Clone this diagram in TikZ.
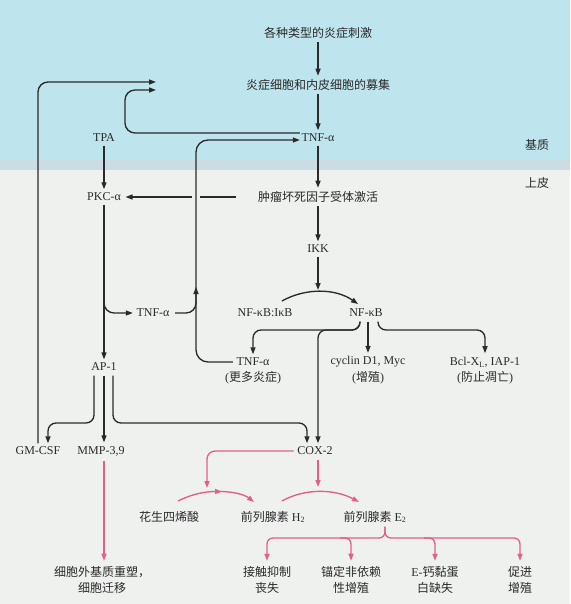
\documentclass[tikz,border=0pt]{standalone}
\usepackage{fontspec}
\setmainfont{Liberation Serif}
\newfontfamily\cjk{Noto Sans CJK SC}
\usetikzlibrary{arrows.meta}
\definecolor{bgblue}{HTML}{BEE4EE}
\definecolor{bgband}{HTML}{CCDCE3}
\definecolor{bggray}{HTML}{EFF1EF}
\definecolor{ink}{HTML}{2A2A2A}
\definecolor{pinkln}{HTML}{E25E8C}
\begin{document}
\begin{tikzpicture}[x=1pt,y=-1pt,
  lbl/.style={text=ink, inner sep=1.5pt, font=\fontsize{12}{16}\selectfont, align=center},
  arr/.style={draw=ink, line width=1.35pt, -{Triangle[length=7pt,width=5pt]}, rounded corners=8pt},
  ln/.style={draw=ink, line width=1.35pt},
  parr/.style={draw=pinkln, line width=1.35pt, -{Triangle[length=7pt,width=5pt]}, rounded corners=8pt},
]
\fill[bggray] (0,0) rectangle (570,604);
\fill[bgblue] (0,0) rectangle (570,160);
\fill[bgband] (0,160) rectangle (570,170);
\useasboundingbox (0,0) rectangle (570,604);

% nodes
\node[lbl] (stim) at (318,33) {\cjk 各种类型的炎症刺激};
\node[lbl] (recruit) at (318,85) {\cjk 炎症细胞和内皮细胞的募集};
\node[lbl] (tnf1) at (318,138) {TNF-α};
\node[lbl] (tnfr) at (318,197) {\cjk 肿瘤坏死因子受体激活};
\node[lbl] (ikk) at (318,249) {IKK};
\node[lbl] (nfkbikb) at (265,313) {NF-κB:IκB};
\node[lbl] (nfkb) at (366,313) {NF-κB};
\node[lbl] (tpa) at (104,138) {TPA};
\node[lbl] (pkc) at (104,197) {PKC-α};
\node[lbl] (tnfm) at (153,313) {TNF-α};
\node[lbl] (ap1) at (104,367) {AP-1};
\node[lbl] (tnf3) at (253,362) {TNF-α};
\node[lbl] (tnf3b) at (253,378) {({\cjk 更多炎症})};
\node[lbl] (cyclin) at (368,362) {cyclin D1, Myc};
\node[lbl] (cyclinb) at (368,378) {({\cjk 增殖})};
\node[lbl] (bcl) at (485,362) {Bcl-X\textsubscript{L}, IAP-1};
\node[lbl] (bclb) at (485,378) {({\cjk 防止凋亡})};
\node[lbl] (gmcsf) at (38,451) {GM-CSF};
\node[lbl] (mmp) at (101,451) {MMP-3,9};
\node[lbl] (cox2) at (315,451) {COX-2};
\node[lbl] (aa) at (169,517) {\cjk 花生四烯酸};
\node[lbl] (h2) at (273,517) {{\cjk 前列腺素} H\textsubscript{2}};
\node[lbl] (e2) at (375,517) {{\cjk 前列腺素} E\textsubscript{2}};
\node[lbl] (ecm) at (102,580) {\cjk 细胞外基质重塑，\\\cjk 细胞迁移};
\node[lbl] (b1) at (267,580) {\cjk 接触抑制\\\cjk 丧失};
\node[lbl] (b2) at (351,580) {\cjk 锚定非依赖\\\cjk 性增殖};
\node[lbl] (b3) at (435,580) {{E-\cjk 钙黏蛋}\\\cjk 白缺失};
\node[lbl] (b4) at (520,580) {\cjk 促进\\\cjk 增殖};
\node[lbl] (stroma) at (537,145) {\cjk 基质};
\node[lbl] (epi) at (537,183) {\cjk 上皮};

\coordinate (r1) at (156,82);
\coordinate (r2) at (156,90);
\coordinate (arctop) at (318,290);
\coordinate (pgtop) at (207,488);
\coordinate (pgtop2) at (318,487);

% main chain
\draw[arr, shorten <=2pt, shorten >=2pt] (stim) -- (recruit);
\draw[arr, shorten <=2pt, shorten >=2pt] (recruit) -- (tnf1);
\draw[arr, shorten <=2pt, shorten >=2pt] (tnf1) -- (tnfr);
\draw[arr, shorten <=2pt, shorten >=2pt] (tnfr) -- (ikk);
\draw[arr, shorten <=2pt] (ikk) -- (arctop);
\draw[arr] (282,301) .. controls (305,288) and (335,288) .. (358,304);

% TNFR -> PKC with crossing gap
\draw[ln] ([xshift=-20pt]tnfr.west) -- (200,197);
\draw[arr, shorten >=3pt] (192,197) -- (pkc.east);
\draw[arr, shorten <=2pt, shorten >=2pt] (tpa) -- (pkc);
\draw[arr, shorten <=2pt, shorten >=2pt] (pkc) -- (ap1);
\draw[arr, rounded corners=10pt, shorten >=2pt] (104,292) |- (tnfm.west);
\draw[arr, rounded corners=10pt, shorten <=4pt] (tnfm.east) -| (196,287);

% feedback loops
\draw[arr, rounded corners=12pt, shorten <=2pt] (tnf3.west) -| (196,140) -- ([yshift=-2pt]tnf1.west);
\draw[arr, rounded corners=10pt] ([yshift=5pt]tnf1.west) -| (125,90) -- (r2);
\draw[arr, rounded corners=10pt, shorten <=2pt] (gmcsf.north) |- (r1);

% NF-kB outputs
\draw[arr, shorten <=3pt, shorten >=2pt] ([xshift=-6pt]nfkb.south) -- (360,330) -- (253,330) -- (tnf3.north);
\draw[arr, shorten <=3pt, shorten >=2pt] ([xshift=-6pt]nfkb.south) -- (360,330) -- (318,330) -- ([xshift=3pt]cox2.north);
\draw[arr, shorten <=3pt, shorten >=2pt] ([xshift=2pt]nfkb.south) -- (cyclin.north);
\draw[arr, shorten <=3pt, shorten >=2pt] ([xshift=12pt]nfkb.south) -- (378,330) -- (485,330) -- (bcl.north);

% AP-1 outputs
\draw[arr, shorten <=3pt, shorten >=2pt] ([xshift=-10pt]ap1.south) -- (94,423) -- (48,423) -- ([xshift=10pt]gmcsf.north);
\draw[arr, shorten <=3pt, shorten >=2pt] (ap1.south) -- (ap1.south |- mmp.north);
\draw[arr, shorten <=3pt, shorten >=2pt] ([xshift=9pt]ap1.south) -- (113,423) -- (307,423) -- ([xshift=-8pt]cox2.north);

% pink
\draw[parr, shorten <=2pt] (cox2.west) -| (pgtop);
\draw[parr, shorten <=3pt] ([xshift=3pt]cox2.south) -- (pgtop2);
\draw[parr] (178,501) .. controls (192,494) and (205,491.5) .. (222,491.5);
\draw[parr] (219,491.5) .. controls (235,491.5) and (245,495) .. (254,502);
\draw[parr] (282,501) .. controls (305,488) and (335,489) .. (359,502);
\draw[parr, rounded corners=6pt, shorten <=2pt, shorten >=4pt] ([xshift=10pt]e2.south) -- (385,538) -- (267,538) -- (b1.north);
\draw[parr, rounded corners=6pt, shorten <=2pt, shorten >=4pt] ([xshift=10pt]e2.south) -- (385,538) -- (520,538) -- (b4.north);
\draw[parr, rounded corners=6pt, shorten >=4pt] (340,538) -- (351,538) -- (b2.north);
\draw[parr, rounded corners=6pt, shorten >=4pt] (424,538) -- (435,538) -- (b3.north);
\draw[parr, shorten <=3pt, shorten >=4pt] ([xshift=3pt]mmp.south) -- ([xshift=2pt]ecm.north);
\end{tikzpicture}
\end{document}
